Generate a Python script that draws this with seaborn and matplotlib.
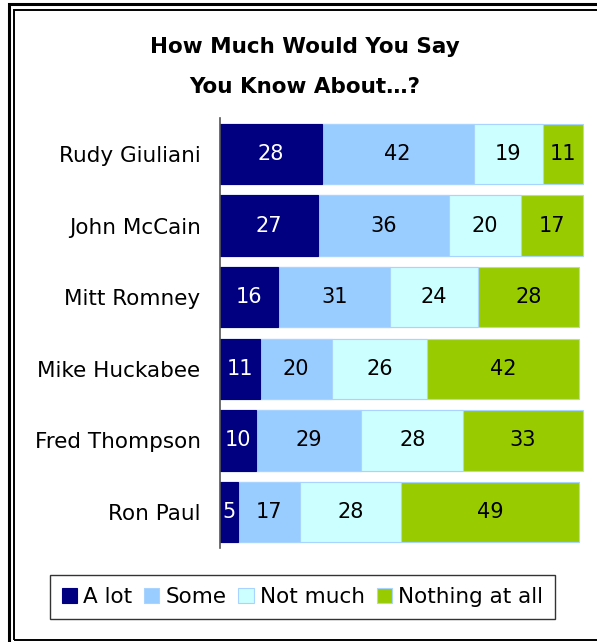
import matplotlib
matplotlib.use("Agg")
import matplotlib.pyplot as plt
from matplotlib.patches import Patch, Rectangle
import numpy as np
import pandas as pd
import seaborn as sns

candidates = ["Rudy Giuliani", "John McCain", "Mitt Romney",
              "Mike Huckabee", "Fred Thompson", "Ron Paul"]
a_lot = [28, 27, 16, 11, 10, 5]
some = [42, 36, 31, 20, 29, 17]
not_much = [19, 20, 24, 26, 28, 28]
nothing = [11, 17, 28, 42, 33, 49]

series_names = ["A lot", "Some", "Not much", "Nothing at all"]
series_values = [a_lot, some, not_much, nothing]
series_colors = ["#000080", "#99CCFF", "#CCFFFF", "#99CC00"]
text_colors = ["white", "black", "black", "black"]

sns.set_theme(style="white")
plt.rcParams["font.family"] = ["DejaVu Sans"]
plt.rcParams["text.color"] = "black"

W, H = 597, 642
fig = plt.figure(figsize=(W / 100, H / 100), dpi=100)
ax = fig.add_axes([220 / W, 1 - 548 / H, 370 / W, 430 / H])

df = pd.DataFrame({"candidate": candidates})
cum = np.zeros(len(candidates))
cums = []
for vals in series_values:
    cum = cum + np.array(vals)
    cums.append(cum.copy())

# draw cumulative layers back to front so each segment shows its own share
for i in reversed(range(len(series_values))):
    df["x"] = cums[i]
    sns.barplot(data=df, x="x", y="candidate", orient="h", color=series_colors[i],
                width=0.84, edgecolor="#A8D4FF" if i > 0 else series_colors[i],
                linewidth=0.8, saturation=1, ax=ax)

for i, vals in enumerate(series_values):
    starts = cums[i] - np.array(vals)
    for j, v in enumerate(vals):
        ax.text(starts[j] + v / 2, j, str(v), ha="center", va="center",
                fontsize=15, color=text_colors[i])

ax.set_xlim(0, 102)
ax.set_ylim(5.5, -0.5)
ax.set_xlabel("")
ax.set_ylabel("")
ax.set_xticks([])
ax.tick_params(axis="y", length=0, pad=14, labelsize=15.5, labelcolor="black")
for side in ["top", "right", "bottom"]:
    ax.spines[side].set_visible(False)
ax.spines["left"].set_color("#555555")
ax.spines["left"].set_linewidth(1.2)

fig.text(305 / W, 1 - 47 / H, "How Much Would You Say", ha="center", va="center",
         fontsize=15.5, fontweight="bold", color="black")
fig.text(305 / W, 1 - 87 / H, "You Know About\u2026?", ha="center", va="center",
         fontsize=15.5, fontweight="bold", color="black")

handles = [Patch(facecolor=c, edgecolor="#A8D4FF" if k > 0 else c, linewidth=0.8)
           for k, c in enumerate(series_colors)]
leg = fig.legend(handles, series_names, loc="center", ncol=4,
                 bbox_to_anchor=(302.5 / W, 1 - 597 / H), frameon=True,
                 fancybox=False, fontsize=15.5, handlelength=0.7, handleheight=0.7,
                 handletextpad=0.3, columnspacing=0.55, borderpad=0.55,
                 borderaxespad=0, labelcolor="black")
leg.get_frame().set_edgecolor("black")
leg.get_frame().set_linewidth(1.0)

# double page frame
fig.add_artist(Rectangle((8.5 / W, -0.05), 1.2, 1 - 4 / H + 0.05,
                         transform=fig.transFigure, fill=False,
                         edgecolor="black", linewidth=2.2))
fig.add_artist(Rectangle((14 / W, 1 - 640 / H), 1.2, (640 - 10) / H,
                         transform=fig.transFigure, fill=False,
                         edgecolor="black", linewidth=1.4))

fig.savefig("out.png", dpi=100, facecolor="white")
